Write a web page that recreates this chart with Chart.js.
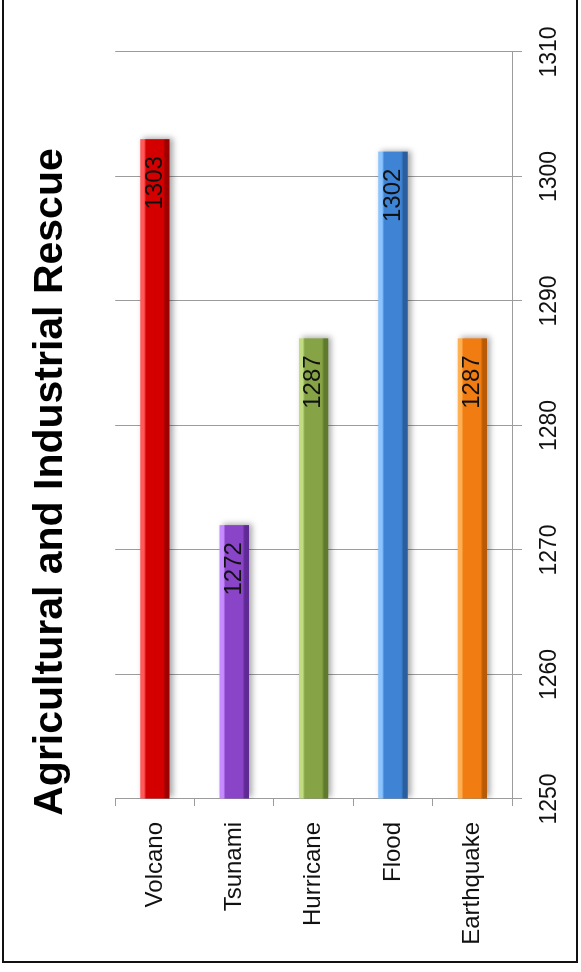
<!DOCTYPE html>
<html>
<head>
<meta charset="utf-8">
<script src="https://cdn.jsdelivr.net/npm/chart.js@4.4.0/dist/chart.umd.min.js"></script>
<style>
  html, body { margin: 0; padding: 0; background: #fff; }
  body { width: 581px; height: 972px; position: relative; overflow: hidden; }
  #frame { position: absolute; left: 2px; top: -4px; width: 572px; height: 963px; border: 2px solid #111; }
  /* chart is drawn as a horizontal bar chart, then turned a quarter turn to the left */
  #turn { position: absolute; left: 0; top: 0; width: 972px; height: 581px;
          transform-origin: 0 0; transform: translateY(972px) rotate(-90deg); }
</style>
</head>
<body>
<div id="turn"><canvas id="myChart" width="972" height="581"></canvas></div>
<div id="frame"></div>
<script>
const categories = ['Volcano', 'Tsunami', 'Hurricane', 'Flood', 'Earthquake'];
const rescues = [1303, 1272, 1287, 1302, 1287];
const axisMin = 1250;
const axisMax = 1310;
const axisStep = 10;
// light edge, body, dark edge
const barShades = [
  ['#ff5a5a', '#d40000', '#9c0000'],
  ['#c68cff', '#8a44c8', '#5f2a94'],
  ['#c2dc82', '#86a446', '#5e7a2a'],
  ['#8cc4ff', '#3f84d4', '#2a5e9e'],
  ['#ffb052', '#f07c12', '#b85a06']
];

const gridGrey = '#9c9c9c';
const txtFont = 'Liberation Sans, Arial, sans-serif';

// bevelled look: gradient across each bar's thickness
const bevel = {
  id: 'bevel',
  beforeDatasetsDraw(chart) {
    const c = chart.ctx;
    chart.getDatasetMeta(0).data.forEach((bar, i) => {
      const s = barShades[i];
      const top = bar.y - bar.height / 2, bot = bar.y + bar.height / 2;
      const g = c.createLinearGradient(0, top, 0, bot);
      g.addColorStop(0, s[0]);
      g.addColorStop(0.13, s[0]);
      g.addColorStop(0.2, s[1]);
      g.addColorStop(0.78, s[1]);
      g.addColorStop(0.86, s[2]);
      g.addColorStop(1, s[2]);
      bar.options.backgroundColor = g;
    });
    c.save();
    c.shadowColor = 'rgba(0,0,0,0.35)';
    c.shadowBlur = 6;
    c.shadowOffsetX = 1;
    c.shadowOffsetY = 3;
  },
  afterDatasetsDraw(chart) {
    chart.ctx.restore();
  }
};

// title in the original sits a bit right of the canvas centre
const titleShift = {
  id: 'titleShift',
  afterLayout(chart) {
    chart.titleBlock.left += 25;
    chart.titleBlock.right += 25;
  }
};

const valueLabels = {
  id: 'valueLabels',
  afterDraw(chart) {
    const c = chart.ctx;
    c.save();
    c.font = '24px ' + txtFont;
    c.fillStyle = '#111';
    c.textAlign = 'right';
    c.textBaseline = 'middle';
    chart.getDatasetMeta(0).data.forEach((bar, i) => {
      c.fillText(String(rescues[i]), bar.x - 17, bar.y);
    });
    c.restore();
  }
};

const ctx = document.getElementById('myChart').getContext('2d');

const myChart = new Chart(ctx, {
  type: 'bar',
  data: {
    labels: categories,
    datasets: [{
      label: 'Rescues',
      data: rescues,
      base: axisMin,
      backgroundColor: barShades.map(s => s[1]),
      borderWidth: 0,
      barPercentage: 0.37,
      categoryPercentage: 1.0
    }]
  },
  options: {
    indexAxis: 'y',
    responsive: false,
    animation: false,
    devicePixelRatio: 1,
    layout: { padding: { left: 10, right: 52, top: 0, bottom: 0 } },
    plugins: {
      legend: { display: false },
      tooltip: { enabled: false },
      title: {
        display: true,
        text: 'Agricultural and Industrial Rescue',
        color: '#000',
        font: { family: txtFont, size: 41, weight: 'bold', lineHeight: 1.2 },
        padding: { top: 26, bottom: 40 }
      }
    },
    scales: {
      x: {
        type: 'linear',
        min: axisMin,
        max: axisMax,
        ticks: {
          stepSize: axisStep,
          color: '#111',
          font: { family: txtFont, size: 23 },
          padding: 14,
          maxRotation: 0,
          callback: v => String(v)
        },
        grid: { color: gridGrey, tickLength: 10, lineWidth: 1 },
        border: { color: gridGrey },
        afterFit(scale) { scale.height = 69; }
      },
      y: {
        type: 'category',
        offset: true,
        ticks: {
          color: '#111',
          font: { family: txtFont, size: 24 },
          padding: 16
        },
        grid: { offset: true, drawOnChartArea: false, color: gridGrey, tickLength: 7 },
        border: { color: gridGrey },
        afterFit(scale) { scale.width = 163; }
      }
    }
  },
  plugins: [bevel, titleShift, valueLabels]
});
</script>
</body>
</html>
